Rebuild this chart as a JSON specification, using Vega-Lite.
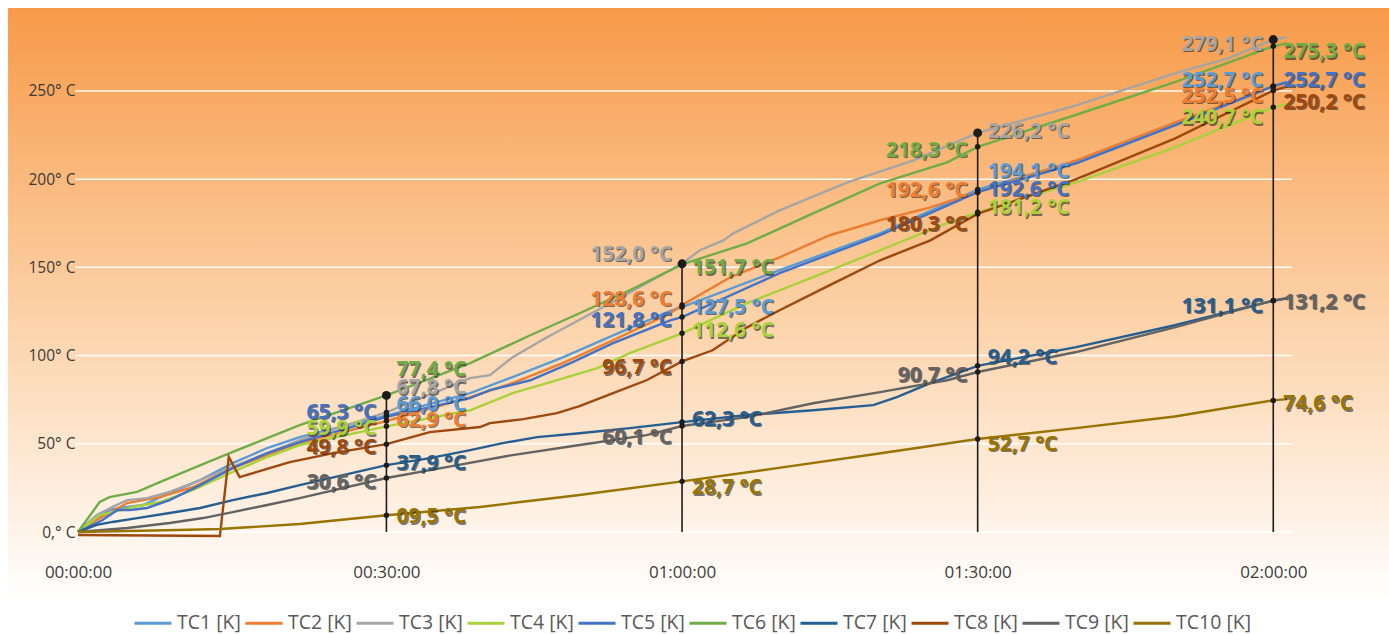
{
  "$schema": "https://vega.github.io/schema/vega-lite/v6.json",
  "width": 1214,
  "height": 524,
  "autosize": "none",
  "padding": {"left": 78, "top": 8, "right": 97, "bottom": 102},
  "background": "white",
  "datasets": {
    "lines": [
      {"s": "TC1 [K]", "t": -1.3, "v": 0}, {"s": "TC1 [K]", "t": 0.6, "v": 8}, {"s": "TC1 [K]", "t": 1.9, "v": 12.5}, {"s": "TC1 [K]", "t": 2.9, "v": 13.6},
      {"s": "TC1 [K]", "t": 5.3, "v": 15.3}, {"s": "TC1 [K]", "t": 8, "v": 22}, {"s": "TC1 [K]", "t": 11.1, "v": 29.4}, {"s": "TC1 [K]", "t": 14.4, "v": 39},
      {"s": "TC1 [K]", "t": 17.9, "v": 47.6}, {"s": "TC1 [K]", "t": 21.2, "v": 53.8}, {"s": "TC1 [K]", "t": 30, "v": 66}, {"s": "TC1 [K]", "t": 38.5, "v": 78.7},
      {"s": "TC1 [K]", "t": 42.8, "v": 87.8}, {"s": "TC1 [K]", "t": 47.9, "v": 99}, {"s": "TC1 [K]", "t": 53, "v": 111.5}, {"s": "TC1 [K]", "t": 58.5, "v": 124.6},
      {"s": "TC1 [K]", "t": 60, "v": 127.5}, {"s": "TC1 [K]", "t": 69.9, "v": 148.4}, {"s": "TC1 [K]", "t": 80.1, "v": 169.3}, {"s": "TC1 [K]", "t": 90, "v": 194.1},
      {"s": "TC1 [K]", "t": 100, "v": 210}, {"s": "TC1 [K]", "t": 110, "v": 231}, {"s": "TC1 [K]", "t": 120, "v": 252.7}, {"s": "TC1 [K]", "t": 121.4, "v": 255},

      {"s": "TC2 [K]", "t": -1.3, "v": 0}, {"s": "TC2 [K]", "t": 0.6, "v": 6.8}, {"s": "TC2 [K]", "t": 1.9, "v": 10.8}, {"s": "TC2 [K]", "t": 3.7, "v": 16.4},
      {"s": "TC2 [K]", "t": 5.3, "v": 18.1}, {"s": "TC2 [K]", "t": 7, "v": 19.8}, {"s": "TC2 [K]", "t": 10.4, "v": 25.5}, {"s": "TC2 [K]", "t": 14.4, "v": 36.2},
      {"s": "TC2 [K]", "t": 17.9, "v": 43.6}, {"s": "TC2 [K]", "t": 21.2, "v": 50.4}, {"s": "TC2 [K]", "t": 30, "v": 62.9}, {"s": "TC2 [K]", "t": 38.5, "v": 76.4},
      {"s": "TC2 [K]", "t": 42.8, "v": 84.4}, {"s": "TC2 [K]", "t": 47.9, "v": 95.7}, {"s": "TC2 [K]", "t": 53, "v": 108.7}, {"s": "TC2 [K]", "t": 58.8, "v": 124},
      {"s": "TC2 [K]", "t": 60, "v": 128.6}, {"s": "TC2 [K]", "t": 64.9, "v": 144.4}, {"s": "TC2 [K]", "t": 69.9, "v": 155.7}, {"s": "TC2 [K]", "t": 75, "v": 168.2},
      {"s": "TC2 [K]", "t": 80.1, "v": 176.7}, {"s": "TC2 [K]", "t": 85.2, "v": 184}, {"s": "TC2 [K]", "t": 90, "v": 192.6}, {"s": "TC2 [K]", "t": 100, "v": 210.6},
      {"s": "TC2 [K]", "t": 110, "v": 232}, {"s": "TC2 [K]", "t": 120, "v": 252.5}, {"s": "TC2 [K]", "t": 121.4, "v": 254.5},

      {"s": "TC3 [K]", "t": -1.3, "v": 0}, {"s": "TC3 [K]", "t": 0.6, "v": 9.6}, {"s": "TC3 [K]", "t": 2.2, "v": 14.2}, {"s": "TC3 [K]", "t": 3.7, "v": 18.1},
      {"s": "TC3 [K]", "t": 5.7, "v": 19.2}, {"s": "TC3 [K]", "t": 8, "v": 22.7}, {"s": "TC3 [K]", "t": 11.1, "v": 29.4}, {"s": "TC3 [K]", "t": 14.4, "v": 36.9},
      {"s": "TC3 [K]", "t": 17.9, "v": 44.7}, {"s": "TC3 [K]", "t": 21.2, "v": 52.1}, {"s": "TC3 [K]", "t": 30, "v": 67.8}, {"s": "TC3 [K]", "t": 38.5, "v": 87.2},
      {"s": "TC3 [K]", "t": 40.5, "v": 88.9}, {"s": "TC3 [K]", "t": 42.8, "v": 99}, {"s": "TC3 [K]", "t": 46.3, "v": 110.4}, {"s": "TC3 [K]", "t": 51.4, "v": 125.7},
      {"s": "TC3 [K]", "t": 56.4, "v": 141}, {"s": "TC3 [K]", "t": 60, "v": 152}, {"s": "TC3 [K]", "t": 61.8, "v": 159.7}, {"s": "TC3 [K]", "t": 64.2, "v": 165.3},
      {"s": "TC3 [K]", "t": 65.2, "v": 169.3}, {"s": "TC3 [K]", "t": 69.9, "v": 182.3}, {"s": "TC3 [K]", "t": 76.8, "v": 198.2}, {"s": "TC3 [K]", "t": 83.5, "v": 210.6},
      {"s": "TC3 [K]", "t": 90, "v": 226.2}, {"s": "TC3 [K]", "t": 100, "v": 241.8}, {"s": "TC3 [K]", "t": 110, "v": 259.9}, {"s": "TC3 [K]", "t": 115.4, "v": 268.4},
      {"s": "TC3 [K]", "t": 120, "v": 279.1}, {"s": "TC3 [K]", "t": 121.4, "v": 280.5},

      {"s": "TC4 [K]", "t": -1.3, "v": 0}, {"s": "TC4 [K]", "t": 0.9, "v": 9.6}, {"s": "TC4 [K]", "t": 1.9, "v": 10.8}, {"s": "TC4 [K]", "t": 4.3, "v": 14.2},
      {"s": "TC4 [K]", "t": 7, "v": 17}, {"s": "TC4 [K]", "t": 10.4, "v": 23.8}, {"s": "TC4 [K]", "t": 14.4, "v": 34}, {"s": "TC4 [K]", "t": 17.9, "v": 42.5},
      {"s": "TC4 [K]", "t": 21.2, "v": 49.3}, {"s": "TC4 [K]", "t": 30, "v": 59.9}, {"s": "TC4 [K]", "t": 38.5, "v": 69}, {"s": "TC4 [K]", "t": 42.8, "v": 78.7},
      {"s": "TC4 [K]", "t": 46.3, "v": 84.4}, {"s": "TC4 [K]", "t": 51.4, "v": 92.9}, {"s": "TC4 [K]", "t": 54.7, "v": 101.4}, {"s": "TC4 [K]", "t": 60, "v": 112.6},
      {"s": "TC4 [K]", "t": 66.6, "v": 129.7}, {"s": "TC4 [K]", "t": 73.3, "v": 144.4}, {"s": "TC4 [K]", "t": 80.1, "v": 159.7}, {"s": "TC4 [K]", "t": 86.9, "v": 175},
      {"s": "TC4 [K]", "t": 90, "v": 181.2}, {"s": "TC4 [K]", "t": 100, "v": 198.2}, {"s": "TC4 [K]", "t": 110, "v": 218}, {"s": "TC4 [K]", "t": 120, "v": 240.7},
      {"s": "TC4 [K]", "t": 121.4, "v": 242.5},

      {"s": "TC5 [K]", "t": -1.3, "v": 0}, {"s": "TC5 [K]", "t": 0.2, "v": 4}, {"s": "TC5 [K]", "t": 1.2, "v": 6.8}, {"s": "TC5 [K]", "t": 2.7, "v": 12.5},
      {"s": "TC5 [K]", "t": 4, "v": 12.5}, {"s": "TC5 [K]", "t": 5.7, "v": 13.6}, {"s": "TC5 [K]", "t": 8, "v": 18.1}, {"s": "TC5 [K]", "t": 11.1, "v": 26.6},
      {"s": "TC5 [K]", "t": 14.4, "v": 36.2}, {"s": "TC5 [K]", "t": 17.9, "v": 44.7}, {"s": "TC5 [K]", "t": 21.2, "v": 51}, {"s": "TC5 [K]", "t": 30, "v": 65.3},
      {"s": "TC5 [K]", "t": 38.5, "v": 75.9}, {"s": "TC5 [K]", "t": 40.5, "v": 80.4}, {"s": "TC5 [K]", "t": 44.6, "v": 86}, {"s": "TC5 [K]", "t": 48.9, "v": 96.3},
      {"s": "TC5 [K]", "t": 53, "v": 107}, {"s": "TC5 [K]", "t": 58.8, "v": 120}, {"s": "TC5 [K]", "t": 60, "v": 121.8}, {"s": "TC5 [K]", "t": 69.9, "v": 146.7},
      {"s": "TC5 [K]", "t": 80.1, "v": 168.2}, {"s": "TC5 [K]", "t": 90, "v": 192.6}, {"s": "TC5 [K]", "t": 100, "v": 209}, {"s": "TC5 [K]", "t": 110, "v": 230.5},
      {"s": "TC5 [K]", "t": 120, "v": 252.7}, {"s": "TC5 [K]", "t": 121.4, "v": 255},

      {"s": "TC6 [K]", "t": -1.3, "v": 0}, {"s": "TC6 [K]", "t": 0.9, "v": 17}, {"s": "TC6 [K]", "t": 1.9, "v": 19.8}, {"s": "TC6 [K]", "t": 4.7, "v": 22.7},
      {"s": "TC6 [K]", "t": 7, "v": 28.3}, {"s": "TC6 [K]", "t": 10.4, "v": 36.2}, {"s": "TC6 [K]", "t": 14.1, "v": 44.7}, {"s": "TC6 [K]", "t": 17.9, "v": 53.2},
      {"s": "TC6 [K]", "t": 21.2, "v": 60.6}, {"s": "TC6 [K]", "t": 30, "v": 77.4}, {"s": "TC6 [K]", "t": 38.5, "v": 95.7}, {"s": "TC6 [K]", "t": 44.6, "v": 111.5},
      {"s": "TC6 [K]", "t": 49.6, "v": 124}, {"s": "TC6 [K]", "t": 54.7, "v": 137}, {"s": "TC6 [K]", "t": 60, "v": 151.7}, {"s": "TC6 [K]", "t": 66.6, "v": 163.6},
      {"s": "TC6 [K]", "t": 73.3, "v": 180.6}, {"s": "TC6 [K]", "t": 80.1, "v": 197.6}, {"s": "TC6 [K]", "t": 86.9, "v": 209.5}, {"s": "TC6 [K]", "t": 90, "v": 218.3},
      {"s": "TC6 [K]", "t": 100, "v": 236.5}, {"s": "TC6 [K]", "t": 110, "v": 255}, {"s": "TC6 [K]", "t": 120, "v": 275.3}, {"s": "TC6 [K]", "t": 121.4, "v": 277},

      {"s": "TC7 [K]", "t": -1.3, "v": 0}, {"s": "TC7 [K]", "t": 0.6, "v": 4}, {"s": "TC7 [K]", "t": 2.2, "v": 5.7}, {"s": "TC7 [K]", "t": 4.7, "v": 7.9},
      {"s": "TC7 [K]", "t": 8, "v": 10.8}, {"s": "TC7 [K]", "t": 11.1, "v": 13.6}, {"s": "TC7 [K]", "t": 14.4, "v": 18.1}, {"s": "TC7 [K]", "t": 17.9, "v": 22.1},
      {"s": "TC7 [K]", "t": 21.2, "v": 26.6}, {"s": "TC7 [K]", "t": 30, "v": 37.9}, {"s": "TC7 [K]", "t": 34.4, "v": 41.9}, {"s": "TC7 [K]", "t": 38.5, "v": 46.4},
      {"s": "TC7 [K]", "t": 41.8, "v": 50.4}, {"s": "TC7 [K]", "t": 45.3, "v": 53.8}, {"s": "TC7 [K]", "t": 49.6, "v": 56}, {"s": "TC7 [K]", "t": 54.7, "v": 58.9},
      {"s": "TC7 [K]", "t": 60, "v": 62.3}, {"s": "TC7 [K]", "t": 66.6, "v": 66.3}, {"s": "TC7 [K]", "t": 73.3, "v": 69}, {"s": "TC7 [K]", "t": 79.4, "v": 71.9},
      {"s": "TC7 [K]", "t": 81.8, "v": 76.4}, {"s": "TC7 [K]", "t": 85.2, "v": 84.4}, {"s": "TC7 [K]", "t": 90, "v": 94.2}, {"s": "TC7 [K]", "t": 100, "v": 104.8},
      {"s": "TC7 [K]", "t": 110, "v": 117.2}, {"s": "TC7 [K]", "t": 120, "v": 131.1}, {"s": "TC7 [K]", "t": 121.4, "v": 132.5},

      {"s": "TC8 [K]", "t": -1.3, "v": -1.7}, {"s": "TC8 [K]", "t": 13.1, "v": -2.3}, {"s": "TC8 [K]", "t": 14, "v": 42.5}, {"s": "TC8 [K]", "t": 15.1, "v": 31.1},
      {"s": "TC8 [K]", "t": 20.2, "v": 39.6}, {"s": "TC8 [K]", "t": 24.6, "v": 44.7}, {"s": "TC8 [K]", "t": 30, "v": 49.8}, {"s": "TC8 [K]", "t": 34.4, "v": 56.6},
      {"s": "TC8 [K]", "t": 39.5, "v": 59.5}, {"s": "TC8 [K]", "t": 40.5, "v": 61.7}, {"s": "TC8 [K]", "t": 43.9, "v": 64}, {"s": "TC8 [K]", "t": 47.3, "v": 67.4},
      {"s": "TC8 [K]", "t": 49.6, "v": 71.3}, {"s": "TC8 [K]", "t": 53, "v": 78.7}, {"s": "TC8 [K]", "t": 56.4, "v": 86}, {"s": "TC8 [K]", "t": 60, "v": 96.7},
      {"s": "TC8 [K]", "t": 63.1, "v": 103}, {"s": "TC8 [K]", "t": 66.6, "v": 116}, {"s": "TC8 [K]", "t": 69.9, "v": 125.7}, {"s": "TC8 [K]", "t": 75, "v": 139.9},
      {"s": "TC8 [K]", "t": 80.1, "v": 154}, {"s": "TC8 [K]", "t": 85.2, "v": 165.3}, {"s": "TC8 [K]", "t": 90, "v": 180.3}, {"s": "TC8 [K]", "t": 100, "v": 200},
      {"s": "TC8 [K]", "t": 110, "v": 223}, {"s": "TC8 [K]", "t": 120, "v": 250.2}, {"s": "TC8 [K]", "t": 121.4, "v": 252.5},

      {"s": "TC9 [K]", "t": -1.3, "v": 0}, {"s": "TC9 [K]", "t": 3.7, "v": 2.3}, {"s": "TC9 [K]", "t": 8, "v": 5.1}, {"s": "TC9 [K]", "t": 11.4, "v": 7.9},
      {"s": "TC9 [K]", "t": 14.4, "v": 11.3}, {"s": "TC9 [K]", "t": 17.9, "v": 15.3}, {"s": "TC9 [K]", "t": 21.2, "v": 19.2}, {"s": "TC9 [K]", "t": 30, "v": 30.6},
      {"s": "TC9 [K]", "t": 36.1, "v": 36.8}, {"s": "TC9 [K]", "t": 42.8, "v": 43.6}, {"s": "TC9 [K]", "t": 49.6, "v": 49.3}, {"s": "TC9 [K]", "t": 56.4, "v": 54.9},
      {"s": "TC9 [K]", "t": 60, "v": 60.1}, {"s": "TC9 [K]", "t": 66.6, "v": 65.1}, {"s": "TC9 [K]", "t": 73.3, "v": 73}, {"s": "TC9 [K]", "t": 80.1, "v": 79.3},
      {"s": "TC9 [K]", "t": 86.9, "v": 86}, {"s": "TC9 [K]", "t": 90, "v": 90.7}, {"s": "TC9 [K]", "t": 100, "v": 102}, {"s": "TC9 [K]", "t": 110, "v": 116},
      {"s": "TC9 [K]", "t": 120, "v": 131.2}, {"s": "TC9 [K]", "t": 121.4, "v": 132.5},

      {"s": "TC10 [K]", "t": -1.3, "v": 0}, {"s": "TC10 [K]", "t": 8.9, "v": 1.1}, {"s": "TC10 [K]", "t": 13.1, "v": 1.7}, {"s": "TC10 [K]", "t": 21.2, "v": 4.5},
      {"s": "TC10 [K]", "t": 30, "v": 9.5}, {"s": "TC10 [K]", "t": 39.5, "v": 14.2}, {"s": "TC10 [K]", "t": 49.6, "v": 21}, {"s": "TC10 [K]", "t": 60, "v": 28.7},
      {"s": "TC10 [K]", "t": 70, "v": 36.5}, {"s": "TC10 [K]", "t": 80, "v": 44.5}, {"s": "TC10 [K]", "t": 90, "v": 52.7}, {"s": "TC10 [K]", "t": 100, "v": 58.9},
      {"s": "TC10 [K]", "t": 110, "v": 65.5}, {"s": "TC10 [K]", "t": 120, "v": 74.6}, {"s": "TC10 [K]", "t": 121.4, "v": 75.3}
    ],
    "markers": [
      {"s": "TC1 [K]", "t": 30, "v": 66.0, "label": "66,0 °C"}, {"s": "TC1 [K]", "t": 60, "v": 127.5, "label": "127,5 °C"},
      {"s": "TC1 [K]", "t": 90, "v": 194.1, "label": "194,1 °C"}, {"s": "TC1 [K]", "t": 120, "v": 252.7, "label": "252,7 °C"},
      {"s": "TC2 [K]", "t": 30, "v": 62.9, "label": "62,9 °C"}, {"s": "TC2 [K]", "t": 60, "v": 128.6, "label": "128,6 °C"},
      {"s": "TC2 [K]", "t": 90, "v": 192.6, "label": "192,6 °C"}, {"s": "TC2 [K]", "t": 120, "v": 252.5, "label": "252,5 °C"},
      {"s": "TC3 [K]", "t": 30, "v": 67.8, "label": "67,8 °C"}, {"s": "TC3 [K]", "t": 60, "v": 152.0, "label": "152,0 °C"},
      {"s": "TC3 [K]", "t": 90, "v": 226.2, "label": "226,2 °C"}, {"s": "TC3 [K]", "t": 120, "v": 279.1, "label": "279,1 °C"},
      {"s": "TC4 [K]", "t": 30, "v": 59.9, "label": "59,9 °C"}, {"s": "TC4 [K]", "t": 60, "v": 112.6, "label": "112,6 °C"},
      {"s": "TC4 [K]", "t": 90, "v": 181.2, "label": "181,2 °C"}, {"s": "TC4 [K]", "t": 120, "v": 240.7, "label": "240,7 °C"},
      {"s": "TC5 [K]", "t": 30, "v": 65.3, "label": "65,3 °C"}, {"s": "TC5 [K]", "t": 60, "v": 121.8, "label": "121,8 °C"},
      {"s": "TC5 [K]", "t": 90, "v": 192.6, "label": "192,6 °C"}, {"s": "TC5 [K]", "t": 120, "v": 252.7, "label": "252,7 °C"},
      {"s": "TC6 [K]", "t": 30, "v": 77.4, "label": "77,4 °C"}, {"s": "TC6 [K]", "t": 60, "v": 151.7, "label": "151,7 °C"},
      {"s": "TC6 [K]", "t": 90, "v": 218.3, "label": "218,3 °C"}, {"s": "TC6 [K]", "t": 120, "v": 275.3, "label": "275,3 °C"},
      {"s": "TC7 [K]", "t": 30, "v": 37.9, "label": "37,9 °C"}, {"s": "TC7 [K]", "t": 60, "v": 62.3, "label": "62,3 °C"},
      {"s": "TC7 [K]", "t": 90, "v": 94.2, "label": "94,2 °C"}, {"s": "TC7 [K]", "t": 120, "v": 131.1, "label": "131,1 °C"},
      {"s": "TC8 [K]", "t": 30, "v": 49.8, "label": "49,8 °C"}, {"s": "TC8 [K]", "t": 60, "v": 96.7, "label": "96,7  °C"},
      {"s": "TC8 [K]", "t": 90, "v": 180.3, "label": "180,3 °C"}, {"s": "TC8 [K]", "t": 120, "v": 250.2, "label": "250,2 °C"},
      {"s": "TC9 [K]", "t": 30, "v": 30.6, "label": "30,6 °C"}, {"s": "TC9 [K]", "t": 60, "v": 60.1, "label": "60,1 °C"},
      {"s": "TC9 [K]", "t": 90, "v": 90.7, "label": "90,7 °C"}, {"s": "TC9 [K]", "t": 120, "v": 131.2, "label": "131,2 °C"},
      {"s": "TC10 [K]", "t": 30, "v": 9.5, "label": "09,5 °C"}, {"s": "TC10 [K]", "t": 60, "v": 28.7, "label": "28,7 °C"},
      {"s": "TC10 [K]", "t": 90, "v": 52.7, "label": "52,7 °C"}, {"s": "TC10 [K]", "t": 120, "v": 74.6, "label": "74,6 °C"}
    ],
    "gridlines": [{"g": 0}, {"g": 50}, {"g": 100}, {"g": 150}, {"g": 200}, {"g": 250}]
  },
  "layer": [
    {
      "data": {"values": [{}]},
      "mark": {
        "type": "rect",
        "color": {
          "gradient": "linear", "x1": 0, "y1": 0, "x2": 0, "y2": 1,
          "stops": [
            {"offset": 0, "color": "#f79a48"},
            {"offset": 0.5, "color": "#fcd3aa"},
            {"offset": 0.95, "color": "#ffffff"},
            {"offset": 1, "color": "#ffffff"}
          ]
        }
      },
      "encoding": {
        "x": {
          "datum": -8.4, "type": "quantitative",
          "scale": {"domain": [-1.3, 121.9], "nice": false, "zero": false},
          "axis": {
            "values": [-1.3, 30, 60, 90, 120],
            "labelExpr": "datum.value < 1 ? '00:00:00' : '0' + floor(datum.value / 60) + ':' + (datum.value % 60 == 0 ? '00' : '30') + ':00'",
            "title": null, "grid": false, "domain": false, "ticks": false, "zindex": 1,
            "labelFontSize": 17, "labelColor": "#3c3c3c", "labelPadding": 32, "labelFlush": false
          }
        },
        "x2": {"datum": 131.8},
        "y": {
          "datum": 297, "type": "quantitative",
          "scale": {"domain": [0, 297], "nice": false},
          "axis": {
            "values": [0, 50, 100, 150, 200, 250],
            "labelExpr": "datum.value == 0 ? '0,° C' : datum.value + '° C'",
            "title": null, "domain": false, "ticks": false, "grid": false, "zindex": 1,
            "labelFontSize": 15.5, "labelColor": "#3a3a3a", "labelPadding": 3
          }
        },
        "y2": {"datum": -58}
      }
    },
    {
      "data": {"name": "gridlines"},
      "mark": {"type": "rule", "color": "#ffffff", "strokeWidth": 1.5, "opacity": 0.95},
      "encoding": {
        "x": {"datum": -1.6, "type": "quantitative", "scale": {"domain": [-1.3, 121.9], "nice": false, "zero": false}, "axis": {"title": null}},
        "x2": {"datum": 121.9},
        "y": {"field": "g", "type": "quantitative", "scale": {"domain": [0, 297], "nice": false}, "axis": {"title": null}}
      }
    },
    {
      "data": {"name": "lines"},
      "mark": {"type": "line", "strokeWidth": 2.4},
      "encoding": {
        "x": {"field": "t", "type": "quantitative", "scale": {"domain": [-1.3, 121.9], "nice": false, "zero": false}, "axis": {"title": null}},
        "y": {"field": "v", "type": "quantitative", "scale": {"domain": [0, 297], "nice": false}, "axis": {"title": null}},
        "color": {
          "field": "s", "type": "nominal",
          "scale": {
            "domain": ["TC1 [K]", "TC2 [K]", "TC3 [K]", "TC4 [K]", "TC5 [K]", "TC6 [K]", "TC7 [K]", "TC8 [K]", "TC9 [K]", "TC10 [K]"],
            "range": ["#5b9bd5", "#ed7d31", "#a5a5a5", "#a9d13a", "#4472c4", "#70ad47", "#255e91", "#9e480e", "#636363", "#997300"]
          },
          "legend": {
            "orient": "none", "legendX": 55, "legendY": 595,
            "direction": "horizontal", "columns": 10, "gridAlign": "each",
            "title": null, "symbolType": "stroke", "symbolSize": 1369, "symbolStrokeWidth": 3,
            "labelFontSize": 19.5, "labelColor": "#595959", "labelOffset": 4, "columnPadding": -2, "labelLimit": 200
          }
        }
      }
    },
    {
      "data": {"name": "markers"},
      "transform": [{"aggregate": [{"op": "max", "field": "v", "as": "top"}], "groupby": ["t"]}],
      "mark": {"type": "rule", "color": "#1c1c1c", "strokeWidth": 1.6},
      "encoding": {
        "x": {"field": "t", "type": "quantitative", "scale": {"domain": [-1.3, 121.9], "nice": false, "zero": false}, "axis": {"title": null}},
        "y": {"field": "top", "type": "quantitative", "scale": {"domain": [0, 297], "nice": false}, "axis": {"title": null}},
        "y2": {"datum": 0}
      }
    },
    {
      "data": {"name": "markers"},
      "mark": {"type": "circle", "color": "#1c1c1c", "size": 30, "opacity": 1},
      "encoding": {
        "x": {"field": "t", "type": "quantitative", "scale": {"domain": [-1.3, 121.9], "nice": false, "zero": false}, "axis": {"title": null}},
        "y": {"field": "v", "type": "quantitative", "scale": {"domain": [0, 297], "nice": false}, "axis": {"title": null}}
      }
    },
    {
      "data": {"name": "markers"},
      "transform": [{"aggregate": [{"op": "max", "field": "v", "as": "top"}], "groupby": ["t"]}],
      "mark": {"type": "circle", "color": "#1c1c1c", "size": 80, "opacity": 1},
      "encoding": {
        "x": {"field": "t", "type": "quantitative", "scale": {"domain": [-1.3, 121.9], "nice": false, "zero": false}, "axis": {"title": null}},
        "y": {"field": "top", "type": "quantitative", "scale": {"domain": [0, 297], "nice": false}, "axis": {"title": null}}
      }
    },
    {
      "data": {"name": "markers"},
      "transform": [
        {"calculate": "(datum.t / 30 - 1) * 10 + toNumber(slice(datum.s, 2, indexof(datum.s, ' '))) - 1", "as": "idx"},
        {"calculate": "substring('RRRLLRRLLRRLLRLRRLLRRLRRRLRLLRLLLLRRLRRR', datum.idx, datum.idx + 1)", "as": "side"},
        {"calculate": "datum.v - [-11,0,-24,3,-4,-25,-1,4,5,2,1,-5,-9,-2,4,4,-2,7,12,7,-18,-1,-1,-4,-2,4,-8,11,4,6,-5,10,5,11,-5,6,6,12,2,4][datum.idx] / 1.7643", "as": "ly"}
      ],
      "encoding": {
        "x": {"field": "t", "type": "quantitative", "scale": {"domain": [-1.3, 121.9], "nice": false, "zero": false}, "axis": {"title": null}},
        "y": {"field": "ly", "type": "quantitative", "scale": {"domain": [0, 297], "nice": false}, "axis": {"title": null}},
        "text": {"field": "label"}
      },
      "layer": [
        {
          "transform": [{"filter": "datum.side == 'L'"}],
          "mark": {"type": "text", "align": "right", "baseline": "middle", "dx": -8.8, "dy": 1.3, "fontSize": 21, "fontWeight": "bold", "color": "#262626", "opacity": 0.6}
        },
        {
          "transform": [{"filter": "datum.side == 'L'"}],
          "mark": {"type": "text", "align": "right", "baseline": "middle", "dx": -10, "fontSize": 21, "fontWeight": "bold"},
          "encoding": {"color": {"field": "s", "type": "nominal", "legend": null}}
        },
        {
          "transform": [{"filter": "datum.side == 'R'"}],
          "mark": {"type": "text", "align": "left", "baseline": "middle", "dx": 11.2, "dy": 1.3, "fontSize": 21, "fontWeight": "bold", "color": "#262626", "opacity": 0.6}
        },
        {
          "transform": [{"filter": "datum.side == 'R'"}],
          "mark": {"type": "text", "align": "left", "baseline": "middle", "dx": 10, "fontSize": 21, "fontWeight": "bold"},
          "encoding": {"color": {"field": "s", "type": "nominal", "legend": null}}
        }
      ]
    }
  ],
  "config": {
    "view": {"stroke": null},
    "font": "Open Sans"
  }
}
